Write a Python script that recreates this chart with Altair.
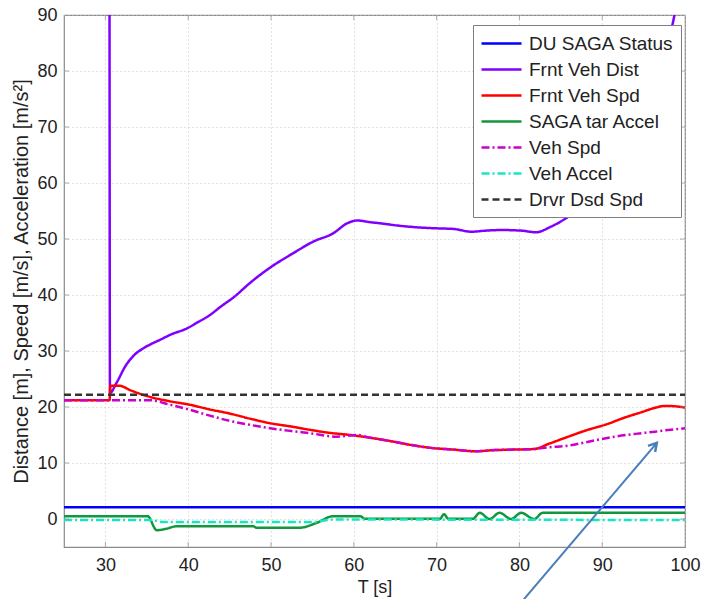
import altair as alt
import pandas as pd

# ---- data ----
series_names = ["DU SAGA Status", "Frnt Veh Dist", "Frnt Veh Spd", "SAGA tar Accel",
                "Veh Spd", "Veh Accel", "Drvr Dsd Spd"]
series_colors = ["#0000ff", "#8000ff", "#ff0000", "#13963c", "#cc00cc", "#14e8c0", "#333333"]
series_dash = [[1, 0], [1, 0], [1, 0], [1, 0], [8, 3, 2, 3], [8, 3, 2, 3], [7, 4]]

status_t = [25, 100]
status_v = [2.1, 2.1]

dist_t = [25, 30.45, 30.55, 31.3, 32.5, 33.5, 34.6, 35.6, 36.6, 38, 39.8, 41, 42.6, 44,
          45.5, 47.5, 50, 52.5, 55.2, 57.5, 59.2, 60.4, 62, 63.2, 65.3, 67.5, 70.1, 72,
          74.2, 76, 77.8, 80.2, 82, 83.8, 86.3, 88, 90, 92, 94, 96, 98, 99, 100]
dist_v = [150, 150, 22.5, 24.2, 27.5, 29.3, 30.5, 31.3, 32, 33, 34, 35, 36.4, 38,
          39.6, 42.2, 45, 47.3, 49.6, 51, 52.8, 53.3, 53.0, 52.8, 52.4, 52.1, 51.9, 51.8,
          51.3, 51.5, 51.6, 51.5, 51.2, 52.2, 54.4, 56.5, 59.5, 63.5, 68.5, 75, 85, 92, 100]

fspd_t = [25, 30.5, 30.6, 31.7, 33, 35.4, 37.5, 40.2, 42.5, 45.1, 47.5, 49.9, 52.5, 54.8,
          57, 59.6, 62, 64.5, 67, 69.3, 72, 74.6, 77, 79.4, 81.8, 83.5, 85.9, 88, 90.7,
          92.5, 94.8, 96.5, 97.6, 99, 100]
fspd_v = [21.2, 21.2, 23.8, 23.8, 23.0, 21.8, 21.1, 20.4, 19.6, 18.8, 17.9, 17.1, 16.5, 15.9,
          15.4, 15.0, 14.5, 13.9, 13.2, 12.7, 12.4, 12.1, 12.3, 12.4, 12.5, 13.4, 14.7, 15.8, 17.0,
          18.0, 19.1, 19.9, 20.2, 20.1, 19.9]

accel_t = [25, 35.1, 36.2, 37.2, 38.6, 47.9, 48.2, 53.5, 55.5, 57.5, 60.8, 61.3, 70.4, 70.9,
           71.4, 74.4, 75.2, 76.4, 77.6, 79.0, 80.2, 81.8, 82.8, 100]
accel_v = [0.5, 0.5, -2.0, -1.8, -1.3, -1.3, -1.55, -1.55, -0.7, 0.5, 0.5, 0.05, 0.05, 0.85,
           0.05, 0.05, 1.1, 0.0, 1.1, 0.0, 1.1, 0.0, 1.1, 1.1]

vspd_t = [25, 35.4, 37.8, 40.2, 42.5, 45.1, 47.5, 49.9, 52.5, 54.8, 58.0, 60.4, 62, 64.5,
          67, 69.3, 72, 74.6, 77, 79.4, 81.8, 83.5, 85.9, 88, 91.5, 94, 96.4, 98, 100]
vspd_v = [21.2, 21.2, 20.4, 19.5, 18.5, 17.5, 16.8, 16.2, 15.7, 15.3, 14.7, 15.0, 14.5, 13.9,
          13.2, 12.7, 12.4, 12.1, 12.3, 12.4, 12.5, 12.8, 13.1, 13.7, 14.7, 15.2, 15.6, 15.9, 16.2]

vacc_t = [25, 35.5, 37, 55, 57.5, 100]
vacc_v = [-0.2, -0.2, -0.55, -0.55, -0.1, -0.2]

dsd_t = [25, 100]
dsd_v = [22.2, 22.2]

x_ticks = [30, 40, 50, 60, 70, 80, 90, 100]
y_ticks = [0, 10, 20, 30, 40, 50, 60, 70, 80, 90]

# annotation arrow (data coordinates: tail below the axis, head near Veh Spd)
arrow_tail = (79.3, -16.5)
arrow_head = (96.6, 13.6)

# ---- build table ----
rows = []
for name, ts, vs in [
    ("DU SAGA Status", status_t, status_v),
    ("Frnt Veh Dist", dist_t, dist_v),
    ("Frnt Veh Spd", fspd_t, fspd_v),
    ("SAGA tar Accel", accel_t, accel_v),
    ("Veh Spd", vspd_t, vspd_v),
    ("Veh Accel", vacc_t, vacc_v),
    ("Drvr Dsd Spd", dsd_t, dsd_v),
]:
    for i, (t, v) in enumerate(zip(ts, vs)):
        rows.append({"series": name, "t": t, "v": v, "order": i})
df = pd.DataFrame(rows)

FONT = "Liberation Sans"
xscale = alt.Scale(domain=[25, 100], nice=False, zero=False)
yscale = alt.Scale(domain=[-5, 90], nice=False, zero=False)

lines = alt.Chart(df).mark_line(strokeWidth=2.5, clip=True, interpolate="monotone").encode(
    x=alt.X("t:Q", scale=xscale,
            axis=alt.Axis(values=x_ticks, title="T [s]", grid=True, ticks=False, domain=False,
                          labelFontSize=18, titleFontSize=18, labelPadding=9, titlePadding=4,
                          labelFlush=False)),
    y=alt.Y("v:Q", scale=yscale,
            axis=alt.Axis(values=y_ticks,
                          title="Distance [m], Speed [m/s], Acceleration [m/s²]",
                          grid=True, ticks=False, domain=False, labelFontSize=18,
                          titleFontSize=20, labelPadding=7, titlePadding=5)),
    color=alt.Color("series:N", scale=alt.Scale(domain=series_names, range=series_colors),
                    legend=alt.Legend(orient="none", legendX=409, legendY=10, title=None,
                                      symbolType="M-1,0H3", symbolSize=400,
                                      symbolStrokeWidth=2.5, labelFontSize=19,
                                      labelOffset=26, rowPadding=4, padding=7,
                                      strokeColor="#7f7f7f", fillColor="white",
                                      labelFont=FONT, labelColor="#222222",
                                      labelLimit=300)),
    strokeDash=alt.StrokeDash("series:N",
                              scale=alt.Scale(domain=series_names, range=series_dash),
                              legend=alt.Legend(orient="none", legendX=409, legendY=10,
                                                title=None)),
    detail="series:N",
    order="order:Q",
)

tick_df_x = pd.DataFrame({"t": x_ticks[:-1] * 2,
                          "v": [-5] * (len(x_ticks) - 1) + [90] * (len(x_ticks) - 1)})
tick_df_y = pd.DataFrame({"t": [25] * (len(y_ticks) - 1) + [100] * (len(y_ticks) - 1),
                          "v": y_ticks[:-1] * 2})
ticks_x = alt.Chart(tick_df_x).mark_tick(orient="vertical", size=10, thickness=1,
                                         color="#8a8a8a", clip=True).encode(
    x=alt.X("t:Q", scale=xscale), y=alt.Y("v:Q", scale=yscale))
ticks_y = alt.Chart(tick_df_y).mark_tick(orient="horizontal", size=10, thickness=1,
                                         color="#8a8a8a", clip=True).encode(
    x=alt.X("t:Q", scale=xscale), y=alt.Y("v:Q", scale=yscale))

arrow_df = pd.DataFrame({"t": [arrow_tail[0]], "v": [arrow_tail[1]],
                         "t2": [arrow_head[0]], "v2": [arrow_head[1]]})
arrow_line = alt.Chart(arrow_df).mark_rule(color="#4a7ebb", strokeWidth=2, clip=False).encode(
    x=alt.X("t:Q", scale=xscale), y=alt.Y("v:Q", scale=yscale), x2="t2:Q", y2="v2:Q")
head_df = pd.DataFrame({"t": [arrow_head[0]], "v": [arrow_head[1]]})
arrow_headm = alt.Chart(head_df).mark_point(
    shape="M-0.7,1.2L0,0L0.7,1.2", size=180, angle=41, filled=False,
    color="#4a7ebb", strokeWidth=2.5, opacity=1, clip=False).encode(
    x=alt.X("t:Q", scale=xscale), y=alt.Y("v:Q", scale=yscale))

chart = alt.layer(lines, ticks_x, ticks_y, arrow_line, arrow_headm).properties(
    width=621, height=532,
    autosize=alt.AutoSizeParams(type="none"),
    padding={"left": 64, "top": 15, "right": 16, "bottom": 52},
    background="white",
).configure_view(stroke="#8a8a8a", strokeWidth=1.2).configure_axis(
    gridColor="#c4c4c4", gridDash=[1, 3], gridOpacity=1, gridWidth=1,
    labelFont=FONT, titleFont=FONT, labelColor="#222222", titleColor="#222222",
    titleFontWeight="normal",
)

chart.save("out.html", embed_options={"renderer": "svg", "actions": False})
